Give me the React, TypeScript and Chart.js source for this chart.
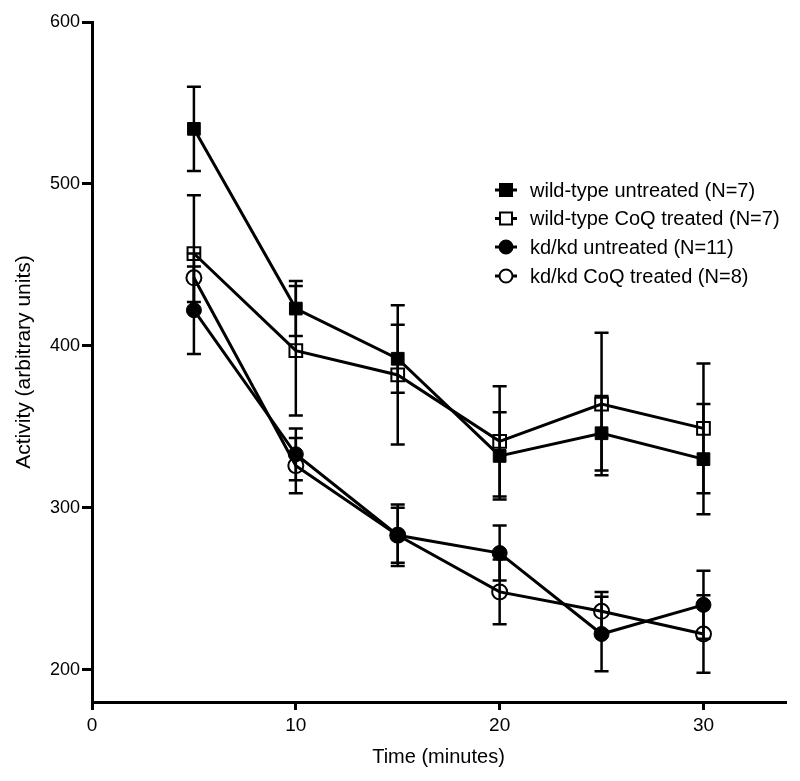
import { useEffect, useRef } from 'react';
import { Chart, registerables } from 'chart.js';

Chart.register(...registerables);

const times = [5, 10, 15, 20, 25, 30];
const wtUntreated = [534, 423, 392, 332, 346, 330];
const wtUntreatedErr = [26, 17, 21, 27, 23, 34];
const wtCoq = [457, 397, 382, 341, 364, 349];
const wtCoqErr = [36, 40, 43, 34, 44, 40];
const kdUntreated = [422, 333, 283, 272, 222, 240];
const kdUntreatedErr = [27, 16, 17, 17, 23, 21];
const kdCoq = [442, 326, 283, 248, 236, 222];
const kdCoqErr = [15, 17, 19, 20, 12, 24];

const xTicks = [0, 10, 20, 30];
const yTicks = [200, 300, 400, 500, 600];

const seriesLabels = [
  'wild-type untreated (N=7)',
  'wild-type CoQ treated (N=7)',
  'kd/kd untreated (N=11)',
  'kd/kd CoQ treated (N=8)',
];

const FONT = '"Liberation Sans", Arial, Helvetica, sans-serif';

function toPoints(vals: number[]) {
  return times.map((t, i) => ({ x: t, y: vals[i] }));
}

const errorBarPlugin = {
  id: 'errorBars',
  beforeDatasetsDraw(chart: any) {
    const ctx = chart.ctx;
    const xs = chart.scales.x;
    const ys = chart.scales.y;
    ctx.save();
    ctx.strokeStyle = '#000';
    ctx.lineWidth = 2.5;
    chart.data.datasets.forEach((ds: any) => {
      const errs: number[] = ds.errors || [];
      ds.data.forEach((p: any, i: number) => {
        const e = errs[i];
        if (!e) return;
        const px = xs.getPixelForValue(p.x);
        const top = ys.getPixelForValue(p.y + e);
        const bot = ys.getPixelForValue(p.y - e);
        ctx.beginPath();
        ctx.moveTo(px, top);
        ctx.lineTo(px, bot);
        ctx.moveTo(px - 7, top);
        ctx.lineTo(px + 7, top);
        ctx.moveTo(px - 7, bot);
        ctx.lineTo(px + 7, bot);
        ctx.stroke();
      });
    });
    ctx.restore();
  },
};

const legendPlugin = {
  id: 'customLegend',
  afterDraw(chart: any, _args: any, opts: any) {
    const ctx = chart.ctx;
    const x0 = opts.x;
    const rows: number[] = opts.rows;
    ctx.save();
    chart.data.datasets.forEach((ds: any, i: number) => {
      const y = rows[i];
      ctx.strokeStyle = '#000';
      ctx.lineWidth = 3;
      ctx.beginPath();
      ctx.moveTo(x0, y);
      ctx.lineTo(x0 + 22, y);
      ctx.stroke();
      const cx = x0 + 11;
      const filled = ds.pointBackgroundColor === '#000';
      ctx.lineWidth = 2;
      ctx.beginPath();
      if (ds.pointStyle === 'rect') {
        const s = 6;
        ctx.rect(cx - s, y - s, 2 * s, 2 * s);
      } else {
        ctx.arc(cx, y, 6.5, 0, Math.PI * 2);
      }
      ctx.fillStyle = filled ? '#000' : '#fff';
      ctx.fill();
      ctx.stroke();
      ctx.fillStyle = '#000';
      ctx.font = `20px ${FONT}`;
      ctx.textBaseline = 'middle';
      ctx.textAlign = 'left';
      ctx.fillText(ds.label, x0 + 35, y + 1);
    });
    ctx.restore();
  },
};

export default function App() {
  const ref = useRef<HTMLCanvasElement | null>(null);

  useEffect(() => {
    document.body.style.margin = '0';
    if (!ref.current) return;
    const mk = (label: string, vals: number[], errs: number[], style: string, filled: boolean) => ({
      label,
      data: toPoints(vals),
      errors: errs,
      borderColor: '#000',
      borderWidth: 3,
      pointStyle: style,
      pointRadius: style === 'rect' ? 9 : 7.5,
      pointBorderWidth: filled ? 1 : 2,
      pointBorderColor: '#000',
      pointBackgroundColor: filled ? '#000' : 'rgba(0,0,0,0)',
      fill: false,
      tension: 0,
      clip: false,
    });

    const chart = new Chart(ref.current, {
      type: 'line',
      data: {
        datasets: [
          mk(seriesLabels[0], wtUntreated, wtUntreatedErr, 'rect', true),
          mk(seriesLabels[1], wtCoq, wtCoqErr, 'rect', false),
          mk(seriesLabels[2], kdUntreated, kdUntreatedErr, 'circle', true),
          mk(seriesLabels[3], kdCoq, kdCoqErr, 'circle', false),
        ] as any,
      },
      options: {
        animation: false,
        responsive: false,
        devicePixelRatio: 1,
        layout: { padding: { top: 22, right: 15, left: 0, bottom: 0 } },
        plugins: {
          legend: { display: false },
          tooltip: { enabled: false },
          customLegend: { x: 495, rows: [190, 218.5, 247, 276] },
        } as any,
        scales: {
          x: {
            type: 'linear',
            min: 0,
            max: 34,
            afterBuildTicks: (s: any) => {
              s.ticks = xTicks.map((v) => ({ value: v }));
            },
            afterFit: (s: any) => {
              s.height = 79;
            },
            border: { display: true, color: '#000', width: 3 },
            grid: {
              display: true,
              drawOnChartArea: false,
              drawTicks: true,
              tickLength: 8,
              color: '#000',
              lineWidth: 3,
            },
            ticks: {
              color: '#000',
              font: { family: FONT, size: 19 },
              padding: 4,
              maxRotation: 0,
            },
            title: {
              display: true,
              text: 'Time (minutes)',
              color: '#000',
              font: { family: FONT, size: 20 },
              padding: { top: 2, bottom: 12 },
            },
          },
          y: {
            type: 'linear',
            min: 180,
            max: 600,
            afterBuildTicks: (s: any) => {
              s.ticks = yTicks.map((v) => ({ value: v }));
            },
            afterFit: (s: any) => {
              s.width = 92;
            },
            border: { display: true, color: '#000', width: 3 },
            grid: {
              display: true,
              drawOnChartArea: false,
              drawTicks: true,
              tickLength: 10,
              color: '#000',
              lineWidth: 3,
            },
            ticks: {
              color: '#000',
              font: { family: FONT, size: 18 },
              padding: 2,
            },
            title: {
              display: true,
              text: 'Activity (arbitrary units)',
              color: '#000',
              font: { family: FONT, size: 21 },
              padding: { top: 12, bottom: 0 },
            },
          },
        },
      } as any,
      plugins: [errorBarPlugin, legendPlugin],
    });
    return () => chart.destroy();
  }, []);

  return (
    <div style={{ width: 800, height: 781 }}>
      <canvas ref={ref} width={800} height={781} style={{ display: 'block', width: 800, height: 781 }} />
    </div>
  );
}
